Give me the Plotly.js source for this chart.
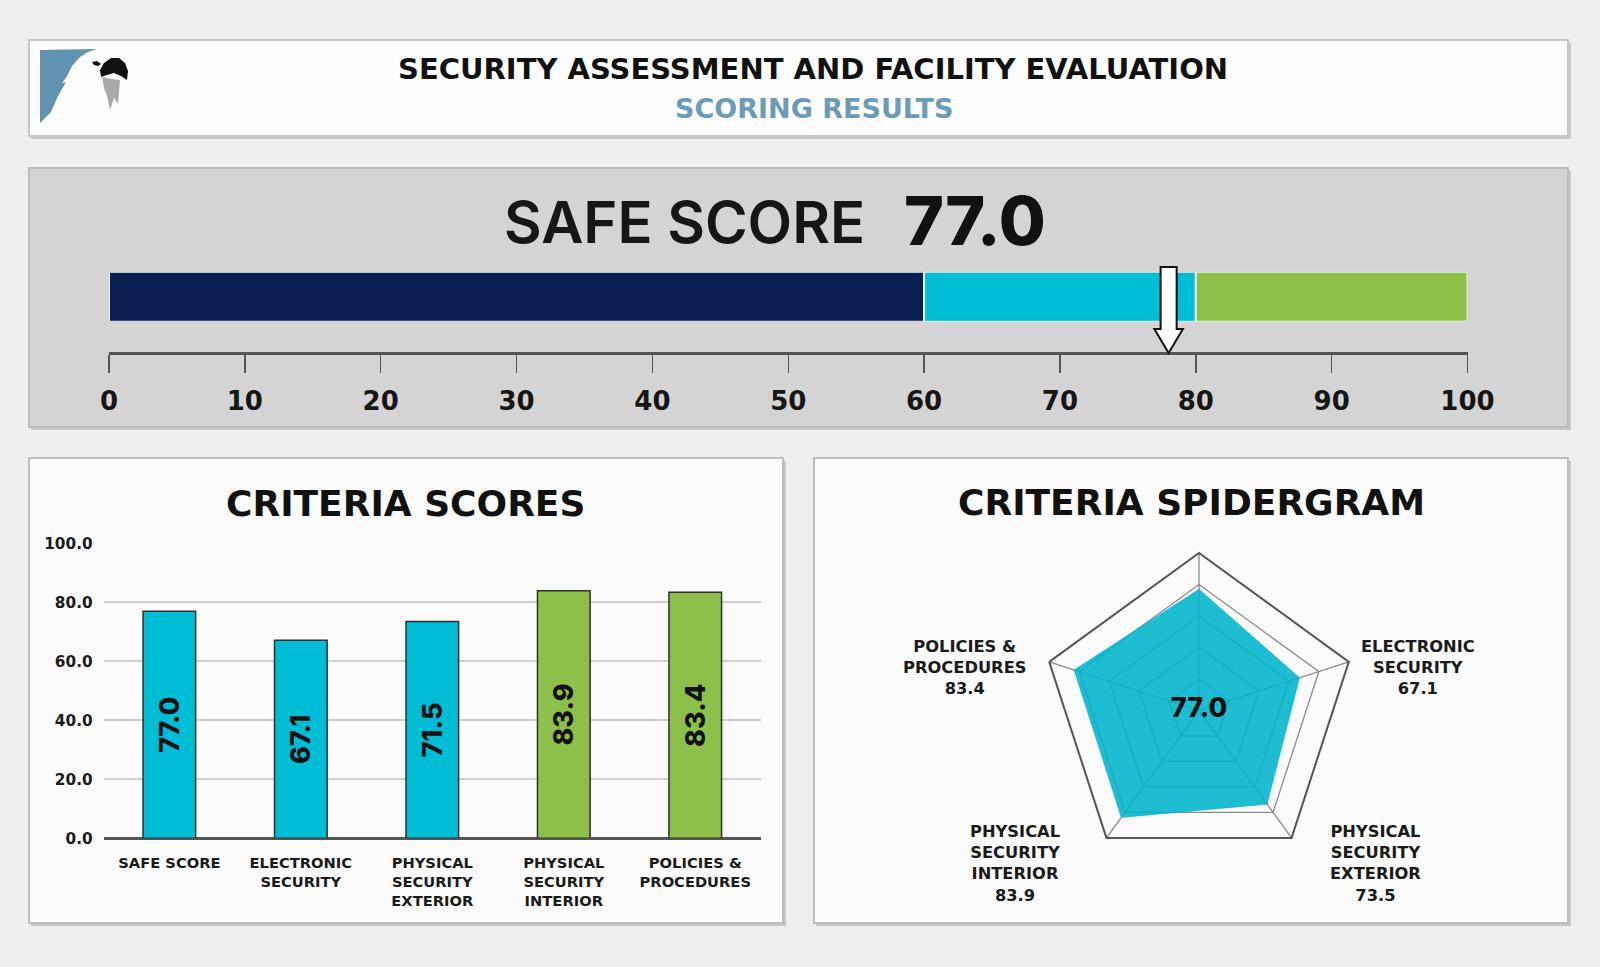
<!DOCTYPE html>
<html><head><meta charset="utf-8">
<script src="https://cdn.plot.ly/plotly-3.0.1.min.js"></script>
<style>html,body{margin:0;padding:0;background:#efefef;} #chart{width:1600px;height:967px;}</style>
</head><body><div id="chart"></div>
<script>
// ---------- data ----------
const categories = ['SAFE SCORE', 'ELECTRONIC SECURITY', 'PHYSICAL SECURITY EXTERIOR', 'PHYSICAL SECURITY INTERIOR', 'POLICIES & PROCEDURES'];
const barTickLabels = ['SAFE SCORE', 'ELECTRONIC<br>SECURITY', 'PHYSICAL<br>SECURITY<br>EXTERIOR', 'PHYSICAL<br>SECURITY<br>INTERIOR', 'POLICIES &<br>PROCEDURES'];
const barValues = [77.0, 67.1, 73.5, 83.9, 83.4];
const barLabels = ['77.0', '67.1', '71.5', '83.9', '83.4'];
const spiderValues = [77.0, 67.1, 73.5, 83.9, 83.4];
const spiderNames = ['', 'ELECTRONIC<br>SECURITY', 'PHYSICAL<br>SECURITY<br>EXTERIOR', 'PHYSICAL<br>SECURITY<br>INTERIOR', 'POLICIES &<br>PROCEDURES'];
const safeScore = 77.0;
const arrowValue = 78.0;
const gaugeThresholds = [0, 60, 80, 100];
const gaugeColors = ['#0a1e52', '#00bdd6', '#8dc04a'];
const gaugeTicks = [0, 10, 20, 30, 40, 50, 60, 70, 80, 90, 100];
const barYTicks = [0, 20, 40, 60, 80, 100];
const spiderRings = [20, 40, 60, 80, 100];

// ---------- helpers ----------
const W = 1600, H = 967;
const X = px => px / W;
const Y = py => 1 - py / H;
const FONT = '"DejaVu Sans", Inter, sans-serif';
const FONT2 = 'Inter, "Open Sans", sans-serif';
function colorFor(v) {
  for (let i = gaugeThresholds.length - 2; i >= 0; i--) if (v >= gaugeThresholds[i]) return gaugeColors[i];
  return gaugeColors[0];
}
function rect(x0, y0, x1, y1, fill, line, lw) {
  return {type: 'rect', xref: 'paper', yref: 'paper', x0: X(x0), x1: X(x1), y0: Y(y1), y1: Y(y0),
    fillcolor: fill, line: {color: line || 'rgba(0,0,0,0)', width: lw || 0}, layer: 'below'};
}
function pathPx(pts, fill) {
  const d = pts.map((p, i) => (i ? 'L' : 'M') + X(p[0]).toFixed(5) + ',' + Y(p[1]).toFixed(5)).join(' ') + ' Z';
  return {type: 'path', xref: 'paper', yref: 'paper', path: d, fillcolor: fill, line: {width: 0}, layer: 'above'};
}

// ---------- traces ----------
const traces = [];

// Gauge
const gx = [], gb = [], gc = [], gy = [];
for (let i = 0; i < gaugeThresholds.length - 1; i++) {
  gb.push(gaugeThresholds[i]);
  gx.push(gaugeThresholds[i + 1] - gaugeThresholds[i]);
  gc.push(gaugeColors[i]);
  gy.push('SAFE SCORE');
}
traces.push({type: 'bar', orientation: 'h', x: gx, base: gb, y: gy, width: 1,
  marker: {color: gc, line: {color: '#e9f3f3', width: 2}},
  xaxis: 'x2', yaxis: 'y2', hoverinfo: 'skip', showlegend: false});

// Criteria bars
traces.push({type: 'bar', x: categories, y: barValues, width: 0.4,
  marker: {color: barValues.map(colorFor), line: {color: '#2e2e2e', width: 1.5}},
  text: barLabels, textposition: 'inside', insidetextanchor: 'middle', textangle: -90,
  constraintext: 'none',
  textfont: {family: FONT2, size: 27, weight: 800, color: '#111'},
  xaxis: 'x', yaxis: 'y', hoverinfo: 'skip', showlegend: false});

// Spider
traces.push({type: 'scatterpolar', r: spiderValues.concat([spiderValues[0]]),
  theta: categories.concat([categories[0]]), mode: 'lines', fill: 'toself',
  fillcolor: 'rgba(0,180,204,0.88)', line: {color: 'rgba(0,180,204,0.6)', width: 1}, hoverinfo: 'skip', showlegend: false});
traces.push({type: 'scatterpolar', r: [0.01], theta: [categories[0]], mode: 'text', cliponaxis: false,
  text: [safeScore.toFixed(1)], textposition: 'middle center',
  textfont: {family: FONT2, size: 27, weight: 800, color: '#111'}, hoverinfo: 'skip', showlegend: false});

// ---------- shapes ----------
const shapes = [];
const shadow = 'rgba(0,0,0,0.16)';
shapes.push(rect(31, 43, 1571, 139, shadow));
shapes.push(rect(29, 40, 1568, 136, '#fdfdfd', '#c6c6c6', 2));
shapes.push(rect(31, 171, 1571, 430, shadow));
shapes.push(rect(29, 168, 1568, 427, '#d4d4d4', '#bcbcbc', 2));
shapes.push(rect(31, 461, 786, 926, shadow));
shapes.push(rect(29, 458, 783, 923, '#fbfbfb', '#bdbdbd', 2));
shapes.push(rect(816, 461, 1571, 926, shadow));
shapes.push(rect(814, 458, 1568, 923, '#fbfbfb', '#bdbdbd', 2));
// logo (decorative)
shapes.push(pathPx([[40, 50], [97, 49], [88, 52], [80, 57], [72, 66], [67, 76], [62, 83], [66, 82], [58, 96], [51, 112], [40, 123]], '#5f93b0'));
shapes.push(pathPx([[102, 77], [112, 79], [120, 80], [119, 92], [118, 104], [114, 98], [110, 110], [107, 96], [104, 88]], '#a9a9a9'));
shapes.push(pathPx([[100, 70], [104, 63], [111, 58], [119, 58], [125, 63], [128, 71], [127, 80], [121, 76], [114, 73], [107, 75], [101, 77]], '#111'));
shapes.push(pathPx([[92, 62], [97, 61], [101, 64], [98, 66], [94, 65]], '#111'));
// gauge arrow (x in data units of the gauge axis)
const sh = 0.59, hh = 1.05, yTop = Y(267), yHead = Y(329), yTip = Y(353);
const a = arrowValue;
shapes.push({type: 'path', xref: 'x2', yref: 'paper', layer: 'above',
  path: `M ${a - sh},${yTop} L ${a + sh},${yTop} L ${a + sh},${yHead} L ${a + hh},${yHead} L ${a},${yTip} L ${a - hh},${yHead} L ${a - sh},${yHead} Z`,
  fillcolor: '#ffffff', line: {color: '#111', width: 2}});

// ---------- annotations ----------
const spiderLabelPos = [null, [1418, 667], [1375, 863], [1015, 863], [965, 667]];
const annotations = [
  {text: 'SECURITY ASSESSMENT AND FACILITY EVALUATION', x: X(812.5), y: Y(69), font: {family: FONT, size: 29, weight: 700, color: '#111'}},
  {text: 'SCORING RESULTS', x: X(813.5), y: Y(108), font: {family: FONT, size: 27, weight: 700, color: '#6b9bb6'}},
  {text: 'SAFE SCORE', x: X(867), y: Y(222), xanchor: 'right', font: {family: FONT2, size: 58, weight: 600, color: '#161616'}},
  {text: safeScore.toFixed(1), x: X(902), y: Y(220), xanchor: 'left', font: {family: FONT2, size: 68, weight: 800, color: '#111'}},
  {text: 'CRITERIA SCORES', x: X(405), y: Y(503), font: {family: FONT, size: 36, weight: 700, color: '#111'}},
  {text: 'CRITERIA SPIDERGRAM', x: X(1191), y: Y(502), font: {family: FONT, size: 36, weight: 700, color: '#111'}}
];
spiderNames.forEach((n, i) => {
  if (!n) return;
  annotations.push({text: n + '<br>' + spiderValues[i].toFixed(1), x: X(spiderLabelPos[i][0]), y: Y(spiderLabelPos[i][1]),
    align: 'center', font: {family: FONT, size: 16.3, weight: 700, color: '#1a1a1a'}});
});
annotations.forEach(o => Object.assign(o, Object.assign({xref: 'paper', yref: 'paper', showarrow: false, xanchor: 'center', yanchor: 'middle'}, o)));

// ---------- layout ----------
const layout = {
  width: W, height: H, margin: {l: 0, r: 0, t: 0, b: 0},
  paper_bgcolor: '#efefef', plot_bgcolor: 'rgba(0,0,0,0)',
  showlegend: false, hovermode: false, font: {family: FONT},
  shapes, annotations,
  xaxis: {domain: [X(103.6), X(761)], anchor: 'y', type: 'category',
    tickvals: categories, ticktext: barTickLabels, showgrid: false, showline: false, ticks: '',
    tickfont: {family: FONT, size: 14.7, weight: 700, color: '#1a1a1a'}, ticklabelstandoff: 14, fixedrange: true},
  yaxis: {domain: [Y(838.3), Y(543.3)], anchor: 'x', range: [0, 100], tickvals: barYTicks, tickformat: '.1f',
    showgrid: true, gridcolor: '#cdcdcd', gridwidth: 2, zeroline: true, zerolinecolor: '#555', zerolinewidth: 2.5,
    showline: false, ticks: '', tickfont: {family: FONT, size: 15.3, weight: 700, color: '#1a1a1a'}, ticklabelstandoff: 10, fixedrange: true},
  xaxis2: {domain: [X(109), X(1467.5)], anchor: 'free', position: Y(352.5), range: [0, 100],
    tickvals: gaugeTicks, showgrid: false, zeroline: false, showline: true, linecolor: '#555', linewidth: 3,
    ticks: 'outside', ticklen: 18, tickwidth: 1.5, tickcolor: '#555',
    tickfont: {family: FONT, size: 26, weight: 700, color: '#161616'}, ticklabelstandoff: 6, fixedrange: true},
  yaxis2: {domain: [Y(321.7), Y(271.7)], anchor: 'x2', type: 'category', range: [-0.5, 0.5], visible: false, fixedrange: true},
  polar: {domain: {x: [X(1041.5), X(1356.5)], y: [Y(868), Y(553)]}, bgcolor: 'rgba(0,0,0,0)', gridshape: 'linear',
    radialaxis: {range: [0, 100], tickvals: spiderRings, showticklabels: false, ticks: '', showline: false,
      gridcolor: '#8a8a8a', gridwidth: 1.3},
    angularaxis: {type: 'category', categoryarray: categories, direction: 'clockwise', rotation: 90,
      showticklabels: false, linecolor: '#555', linewidth: 2, gridcolor: '#8a8a8a', gridwidth: 1.3, ticks: ''}}
};

Plotly.newPlot('chart', traces, layout, {staticPlot: true, displayModeBar: false});
</script></body></html>
